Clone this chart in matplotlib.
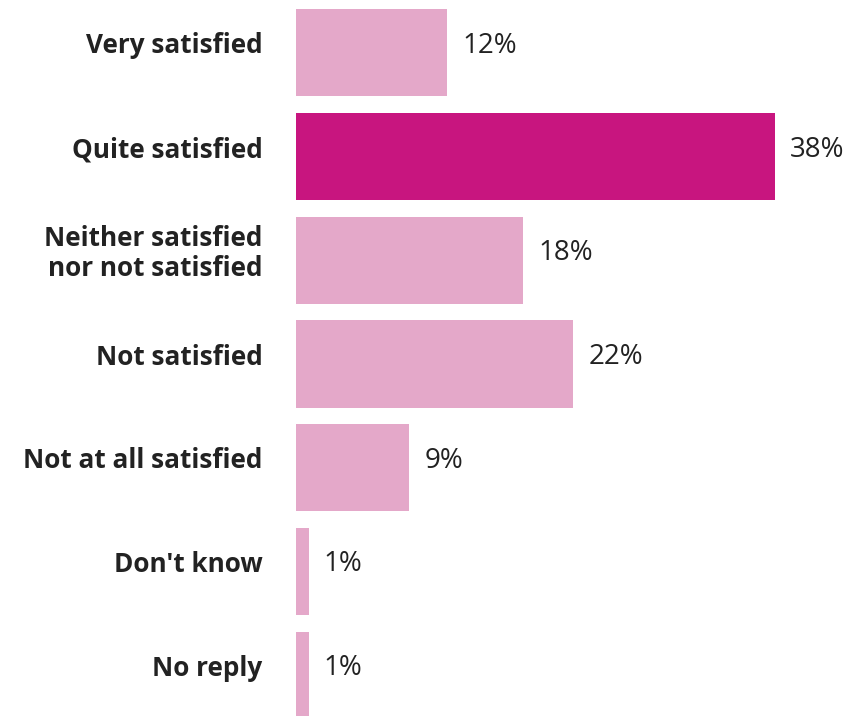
import matplotlib.pyplot as plt

# --- Data ---
categories = ['Very satisfied', 'Quite satisfied', 'Neither satisfied\nnor not satisfied',
              'Not satisfied', 'Not at all satisfied', "Don't know", 'No reply']
shares = [12, 38, 18, 22, 9, 1, 1]
highlight = 'Quite satisfied'

LIGHT = '#e4a8c9'
STRONG = '#c8157f'
TEXT = '#222222'

plt.rcParams['font.family'] = ['Open Sans', 'DejaVu Sans']


def draw_chart():
    fig = plt.figure(figsize=(8.63, 7.16), dpi=100)
    # axes placed so the bars start at the label column edge
    ax = fig.add_axes([296 / 863, -11 / 716, 567 / 863, 726 / 716])

    ypos = list(range(len(categories)))
    colors = [STRONG if c == highlight else LIGHT for c in categories]
    ax.barh(ypos, shares, height=0.84, color=colors, linewidth=0)

    ax.set_xlim(0, 45)
    ax.set_ylim(len(categories) - 0.5, -0.5)
    ax.axis('off')

    for y, cat, val in zip(ypos, categories, shares):
        ax.annotate(cat, xy=(0, y), xytext=(-24, 5), textcoords='offset points',
                    ha='right', va='center', fontsize=18.8, fontweight='bold',
                    color=TEXT, linespacing=1.15)
        ax.annotate(f'{val}%', xy=(val, y), xytext=(11, 5), textcoords='offset points',
                    ha='left', va='center', fontsize=20, color=TEXT)

    fig.savefig('out.png', dpi=100)


if __name__ == '__main__':
    draw_chart()
